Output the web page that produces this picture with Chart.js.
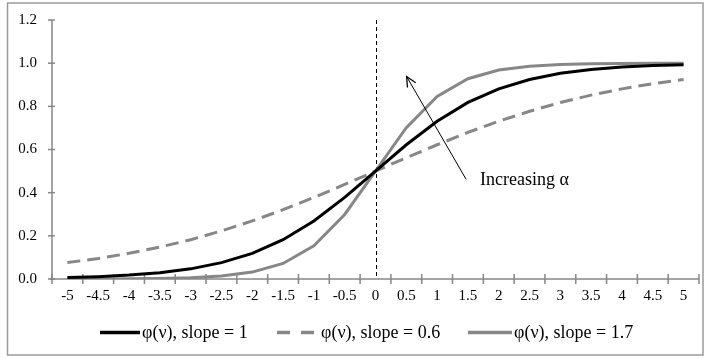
<!DOCTYPE html>
<html><head><meta charset="utf-8">
<script src="https://cdn.jsdelivr.net/npm/chart.js@4/dist/chart.umd.min.js"></script>
<style>html,body{margin:0;padding:0;background:#fff}#wrap{width:706px;height:358px;position:relative}</style>
</head><body><div id="wrap"><canvas id="c" width="706" height="358"></canvas></div>
<script>
const categories = ['-5','-4.5','-4','-3.5','-3','-2.5','-2','-1.5','-1','-0.5','0','0.5','1','1.5','2','2.5','3','3.5','4','4.5','5'];
const slope1   = [0.007,0.011,0.018,0.029,0.047,0.076,0.119,0.182,0.269,0.378,0.5,0.622,0.731,0.818,0.881,0.924,0.953,0.971,0.982,0.989,0.993];
const slope06  = [0.076,0.095,0.119,0.148,0.182,0.223,0.269,0.321,0.378,0.438,0.5,0.562,0.622,0.679,0.731,0.777,0.818,0.852,0.881,0.905,0.924];
const slope17  = [0.0002,0.0005,0.0011,0.0026,0.006,0.014,0.032,0.072,0.154,0.299,0.5,0.701,0.846,0.928,0.968,0.986,0.994,0.997,0.999,0.9995,0.9998];
const seriesLabels = ['φ(ν), slope = 1','φ(ν), slope = 0.6','φ(ν), slope = 1.7'];
const yTicks = [0,0.2,0.4,0.6,0.8,1.0,1.2];
const annotationText = 'Increasing α';

const FONT = '"Liberation Serif","Times New Roman",serif';
const GRAY = '#878787';
const AXIS = '#868686';

const deco = {
  id:'deco',
  beforeDraw(chart){
    const ctx = chart.ctx;
    ctx.save();
    ctx.fillStyle='#fff'; ctx.fillRect(0,0,chart.width,chart.height);
    ctx.strokeStyle='#9a9a9a'; ctx.lineWidth=1.5;
    ctx.strokeRect(7.5,3,695.5,352);
    ctx.restore();
  },
  beforeDatasetsDraw(chart){
    const ctx = chart.ctx, x = chart.scales.x, y = chart.scales.y;
    const a = chart.chartArea;
    ctx.save();
    ctx.strokeStyle = AXIS; ctx.lineWidth = 1.5;
    ctx.beginPath(); ctx.moveTo(a.left, y.getPixelForValue(1.2)); ctx.lineTo(a.left, y.getPixelForValue(0)); ctx.stroke();
    yTicks.forEach(v=>{ const py=y.getPixelForValue(v); ctx.beginPath(); ctx.moveTo(a.left-4,py); ctx.lineTo(a.left+3,py); ctx.stroke(); });
    const y0 = y.getPixelForValue(0);
    ctx.beginPath(); ctx.moveTo(a.left-2, y0); ctx.lineTo(a.right, y0); ctx.stroke();
    for(let i=0;i<=categories.length;i++){
      const px = x.getPixelForValue(i-0.5);
      ctx.beginPath(); ctx.moveTo(px,y0-5); ctx.lineTo(px,y0+5); ctx.stroke();
    }
    const ix = categories.indexOf('0');
    const vx = Math.round(x.getPixelForValue(ix))+0.5;
    ctx.strokeStyle='#000'; ctx.lineWidth=1; ctx.setLineDash([4,3]);
    ctx.beginPath(); ctx.moveTo(vx, y.getPixelForValue(1.2)); ctx.lineTo(vx, y0); ctx.stroke();
    ctx.restore();
  },
  afterDatasetsDraw(chart){
    const ctx = chart.ctx, x = chart.scales.x, y = chart.scales.y;
    ctx.save();
    const x1 = x.getPixelForValue(12.94), y1 = y.getPixelForValue(0.462);
    const x2 = x.getPixelForValue(11.01), y2 = y.getPixelForValue(0.938);
    ctx.strokeStyle='#000'; ctx.lineWidth=1;
    ctx.beginPath(); ctx.moveTo(x1,y1); ctx.lineTo(x2,y2); ctx.stroke();
    const ang = Math.atan2(y2-y1,x2-x1), L=11, sp=0.45;
    ctx.lineWidth=1.3;
    ctx.beginPath();
    ctx.moveTo(x2-L*Math.cos(ang-sp), y2-L*Math.sin(ang-sp));
    ctx.lineTo(x2,y2);
    ctx.lineTo(x2-L*Math.cos(ang+sp), y2-L*Math.sin(ang+sp));
    ctx.stroke();
    ctx.fillStyle='#000'; ctx.font='18px '+FONT; ctx.textBaseline='alphabetic'; ctx.textAlign='left';
    ctx.fillText(annotationText, x.getPixelForValue(13.39), y.getPixelForValue(0.435));
    const ly = 332.5;
    const items = [
      {x0:100,x1:140,tx:142,color:'#000',dash:[]},
      {x0:277,x1:316,tx:321,color:GRAY,dash:[13,11]},
      {x0:468,x1:512,tx:514,color:GRAY,dash:[]}
    ];
    ctx.textBaseline='middle';
    items.forEach((it,i)=>{
      ctx.strokeStyle=it.color; ctx.lineWidth=3.5; ctx.setLineDash(it.dash); ctx.lineCap='butt';
      ctx.beginPath(); ctx.moveTo(it.x0,ly); ctx.lineTo(it.x1,ly); ctx.stroke();
      ctx.setLineDash([]);
      ctx.fillStyle='#000';
      ctx.fillText(seriesLabels[i], it.tx, ly+1);
    });
    ctx.restore();
  }
};

new Chart(document.getElementById('c'), {
  type:'line',
  data:{
    labels:categories,
    datasets:[
      {label:seriesLabels[0], data:slope1, borderColor:'#000', borderWidth:3, pointRadius:0, tension:0, fill:false},
      {label:seriesLabels[1], data:slope06, borderColor:GRAY, borderWidth:3, borderDash:[13,7], pointRadius:0, tension:0, fill:false},
      {label:seriesLabels[2], data:slope17, borderColor:GRAY, borderWidth:3, pointRadius:0, tension:0, fill:false}
    ]
  },
  options:{
    responsive:false, animation:false, devicePixelRatio:1,
    layout:{padding:{left:7,right:7,top:20,bottom:57}},
    plugins:{legend:{display:false}, tooltip:{enabled:false}},
    scales:{
      x:{type:'category', offset:true,
         grid:{display:false, drawTicks:false}, border:{display:false},
         ticks:{color:'#000', font:{family:FONT,size:15}, padding:8, maxRotation:0, autoSkip:false},
         afterFit(s){ s.height = 22; s.paddingLeft = 0; s.paddingRight = 0; }},
      y:{min:0,max:1.2,
         grid:{display:false, drawTicks:false}, border:{display:false},
         ticks:{color:'#000', font:{family:FONT,size:15}, padding:15, stepSize:0.2, callback:v=>Number(v).toFixed(1)},
         afterFit(s){ s.width = 45; s.paddingTop = 0; s.paddingBottom = 0; }}
    }
  },
  plugins:[deco]
});
</script></body></html>
